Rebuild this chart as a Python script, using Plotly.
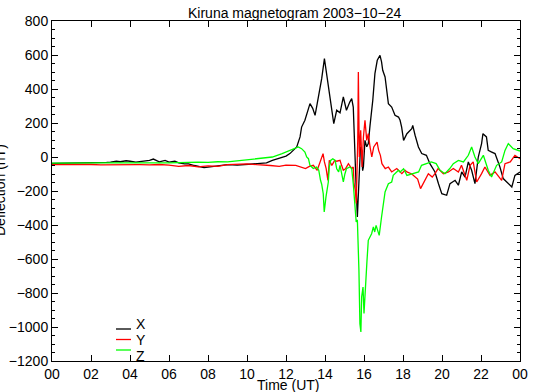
import plotly.graph_objects as go

# ---- data (hours UT, nT) ----
x_time = [0, 0.5, 1, 1.5, 2, 2.5, 2.8, 3, 3.3, 3.5, 3.8, 4, 4.3, 4.5, 4.8, 5, 5.2, 5.5, 5.8, 6, 6.3, 6.5, 6.8,
          7, 7.3, 7.5, 7.8, 8, 8.3, 8.5, 8.8, 9, 9.5, 10, 10.5, 11,
          11.3, 11.7, 12.0, 12.2, 12.4, 12.55, 12.72, 12.8, 12.97, 13.15, 13.23, 13.37, 13.49, 13.6, 13.7,
          13.83, 13.97, 14.05, 14.14, 14.26, 14.34, 14.45, 14.6, 14.77, 14.94, 15.1, 15.27, 15.37, 15.45,
          15.5, 15.54, 15.59, 15.66, 15.72, 15.76, 15.82, 15.88, 15.93, 15.97, 16.05, 16.14, 16.22, 16.31,
          16.45, 16.56, 16.68, 16.82, 16.9, 16.96, 17.08, 17.25, 17.42, 17.59, 17.77, 17.85, 17.93, 18.03,
          18.2, 18.45, 18.5, 18.62, 18.79, 18.96, 19.2, 19.38, 19.64, 19.82, 19.99, 20.24, 20.41, 20.67,
          20.84, 21.01, 21.18, 21.35, 21.52, 21.69, 21.86, 22.03, 22.1, 22.28, 22.37, 22.55, 22.72, 22.97,
          23.14, 23.32, 23.58, 23.74, 24]
x_vals = [-38, -37, -38, -36, -37, -35, -32, -30, -25, -28, -22, -25, -30, -27, -22, -20, -12, -28, -20, -30, -25,
          -35, -40, -40, -50, -55, -62, -60, -55, -50, -48, -45, -48, -45, -42, -35,
          -20, -8, 5, 20, 40, 59, 118, 176, 216, 294, 314, 286, 245, 314, 373,
          461, 579, 510, 451, 343, 265, 196, 275, 260, 353, 275, 323, 343, 294,
          100, -59, -155, -353, -200, -137, 60, 39, -80, -59, 98, 60, 79, 186,
          333, 490, 569, 598, 560, 510, 471, 314, 294, 245, 235, 216, 176, 98,
          137, 167, 186, 128, 59, 20, 10, -39, -88, -157, -216, -225, -157, -137,
          -166, -88, -118, -29, -78, -157, 0, 79, 137, 118, 39, 29, 20, -59,
          -127, -147, -176, -108, -88]

y_time = [0, 0.5, 1, 1.5, 2, 2.5, 3, 3.5, 4, 4.5, 5, 5.5, 6, 6.5, 7, 7.5, 8, 8.5, 9, 9.5, 10, 10.5, 10.8,
          11.2, 11.65, 12, 12.5, 13.0, 13.2, 13.4, 13.6, 13.8, 13.9, 13.97, 14.06, 14.15, 14.22, 14.35, 14.5,
          14.6, 14.77, 14.85, 14.94, 15.05, 15.2, 15.37, 15.45, 15.49, 15.56, 15.6, 15.64, 15.68, 15.71, 15.73,
          15.76, 15.83, 15.9, 15.97, 16.05, 16.14, 16.22, 16.31, 16.4, 16.5, 16.67, 16.75, 16.84, 16.92, 17.09,
          17.25, 17.42, 17.68, 17.94, 18.1, 18.2, 18.45, 18.62, 18.75, 18.9, 19.07, 19.3, 19.5, 19.64, 19.8,
          20.07, 20.33, 20.58, 20.84, 21.0, 21.27, 21.44, 21.6, 21.78, 22.03, 22.2, 22.46, 22.72, 23.06, 23.23,
          23.5, 23.74, 24]
y_vals = [-45, -44, -46, -45, -44, -46, -45, -44, -47, -45, -46, -44, -48, -55, -50, -58, -52, -55, -45, -42, -40, -45, -49,
          -50, -55, -48, -49, -68, -55, -49, -78, -10, 20, -29, -68, -137, -20, -49, -20,
          -25, -20, -49, -78, -70, -39, -68, -59, -157, -200, -274, -100, 100, 500, 200,
          0, 157, -59, 118, 216, 98, 137, 59, 0, 59, 88, 39, 10, -39, -68,
          -59, -88, -68, -98, -78, -88, -100, -118, -130, -186, -147, -98, -118, -98, -68,
          -98, -88, -68, -88, -49, -137, -49, -29, -147, -98, -59, -108, -88, -137, -39,
          -29, 10, -10]

z_time = [0, 0.5, 1, 1.5, 2, 2.5, 3, 3.5, 4, 4.5, 5, 5.5, 6, 6.5, 7, 7.5, 8, 8.5, 9, 9.5, 9.8, 10.2, 10.6,
          11.0, 11.3, 11.8, 12.25, 12.45, 12.63, 12.8, 12.97, 13.06, 13.15, 13.23, 13.4, 13.57, 13.68, 13.77,
          13.83, 13.91, 13.96, 14.05, 14.17, 14.22, 14.29, 14.4, 14.52, 14.6, 14.7, 14.77, 14.85, 14.94, 15.02,
          15.1, 15.27, 15.37, 15.45, 15.54, 15.6, 15.66, 15.71, 15.74, 15.79, 15.84, 15.88, 15.95, 16.0, 16.08,
          16.15, 16.22, 16.3, 16.39, 16.48, 16.55, 16.62, 16.78, 16.9, 16.99, 17.08, 17.25, 17.42, 17.5, 17.6,
          17.77, 17.85, 18.03, 18.2, 18.45, 18.6, 18.8, 18.95, 19.2, 19.45, 19.7, 19.9, 20.15, 20.4, 20.58,
          20.84, 21.1, 21.35, 21.52, 21.69, 21.86, 22.12, 22.37, 22.54, 22.8, 23.06, 23.23, 23.4, 23.65, 23.9, 24]
z_vals = [-36, -35, -36, -35, -35, -34, -35, -34, -35, -34, -35, -34, -35, -33, -34, -30, -32, -28, -29, -22, -20, -15, -10,
          -5, 0, 20, 39, 50, 59, 49, 29, 0, -10, -49, -68, -59, -78, -137,
          -160, -216, -323, -235, -147, -59, -20, -10, -20, -69, -88, -49, -100, -147, -100,
          -69, -59, -68, -157, -300, -382, -370, -529, -666, -980, -1029, -823, -765, -920, -706,
          -617, -490, -470, -451, -412, -441, -402, -461, -353, -274, -206, -157, -147, -108, -98,
          -78, -88, -69, -108, -98, -95, -88, -49, -39, -29, -39, -78, -98, -68, -39,
          -20, -29, 10, 59, 0, -39, 10, -78, -118, -49, -29, 39, 79, 49, 39, 35]

x_tick_vals = [0, 2, 4, 6, 8, 10, 12, 14, 16, 18, 20, 22, 24]
x_tick_text = ["00", "02", "04", "06", "08", "10", "12", "14", "16", "18", "20", "22", "00"]
series_names = ["X", "Y", "Z"]
series_colors = ["#000000", "#ff0000", "#00ff00"]

FONT = "Liberation Sans, Arial, Helvetica, sans-serif"
W, H = 535, 392
L, R, T, B = 52, 15, 21, 31
PW, PH = W - L - R, H - T - B


def px(xp):
    return (xp - L) / PW


def py(yp):
    return (H - B - yp) / PH


fig = go.Figure()
for t, v, name, col in zip([x_time, y_time, z_time], [x_vals, y_vals, z_vals], series_names, series_colors):
    fig.add_trace(go.Scatter(x=t, y=v, mode="lines", name=name,
                             line=dict(color=col, width=1.3), showlegend=False))

axis_common = dict(showline=True, linecolor="black", linewidth=1, mirror="ticks",
                   ticks="inside", tickcolor="black", tickwidth=1, showgrid=False, zeroline=False,
                   automargin=False,
                   tickfont=dict(family=FONT, size=14, color="black"))

fig.update_xaxes(range=[0, 24], tickvals=x_tick_vals, ticktext=x_tick_text, ticklen=6, **axis_common)
fig.update_yaxes(range=[-1200, 800], dtick=200, tick0=0, ticklen=6,
                 minor=dict(dtick=50, ticklen=3, ticks="inside", tickcolor="black", showgrid=False),
                 **axis_common)

annotations = [
    dict(text="Kiruna magnetogram 2003\u221210\u221224", x=px(294), y=1, xref="paper", yref="paper",
         xanchor="center", yanchor="bottom", yshift=-2, showarrow=False,
         font=dict(family=FONT, size=14, color="black")),
    dict(text="Time (UT)", x=px(288), y=py(385), xref="paper", yref="paper",
         xanchor="center", yanchor="middle", showarrow=False,
         font=dict(family=FONT, size=14, color="black")),
    dict(text="Deflection (nT)", x=px(0), y=py(190), xref="paper", yref="paper", textangle=-90,
         xanchor="center", yanchor="middle", showarrow=False,
         font=dict(family=FONT, size=14, color="black")),
]
shapes = []
leg_line_y = [329, 339.5, 350]
leg_text_y = [324, 340, 356]
for name, col, ly, ty in zip(series_names, series_colors, leg_line_y, leg_text_y):
    shapes.append(dict(type="line", xref="paper", yref="paper", x0=px(116), x1=px(131),
                       y0=py(ly), y1=py(ly), line=dict(color=col, width=1.3)))
    annotations.append(dict(text=name, x=px(134), y=py(ty), xref="paper", yref="paper",
                            xanchor="left", yanchor="middle", showarrow=False,
                            font=dict(family=FONT, size=14, color="black")))

fig.update_layout(width=W, height=H, margin=dict(l=L, r=R, t=T, b=B),
                  paper_bgcolor="white", plot_bgcolor="white",
                  annotations=annotations, shapes=shapes)

fig.write_html("out.html", config={"displayModeBar": False},
               post_script="document.body.style.margin='0';document.body.style.padding='0';"
                           "document.body.style.overflow='hidden';")
